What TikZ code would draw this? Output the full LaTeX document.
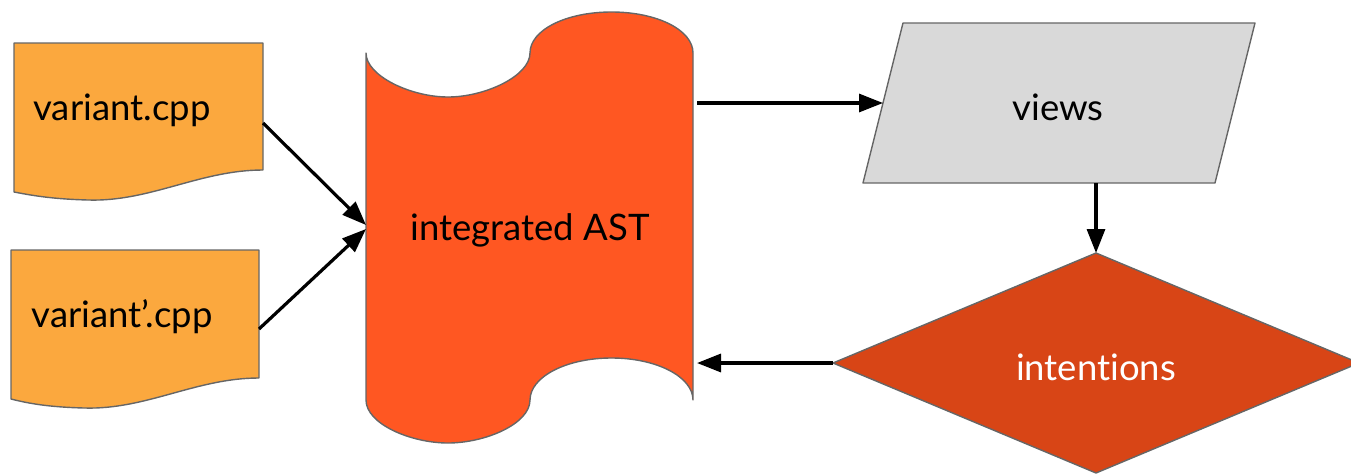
\documentclass[tikz,border=0pt]{standalone}
\usepackage{fontspec}
\setmainfont{Lato}[Ligatures={NoCommon}]
\usetikzlibrary{arrows.meta}
\definecolor{docfill}{HTML}{FBA83E}
\definecolor{astfill}{HTML}{FF5722}
\definecolor{viewfill}{HTML}{D9D9D9}
\definecolor{intfill}{HTML}{D84516}
\definecolor{edge}{HTML}{666666}
\tikzset{
  shapeline/.style={draw=edge, line width=1.4pt, line join=round},
  lbl/.style={inner sep=0pt, font=\fontsize{36.5}{40}\selectfont},
  conn/.style={line width=3.2pt, -{Triangle[length=24pt, width=18pt]}, shorten >=0pt},
}
\begin{document}
\begin{tikzpicture}[x=1pt, y=-1pt]
\useasboundingbox (0,0) rectangle (1351,474);
% document 1
\path[shapeline, fill=docfill] (14,43) -- (263,43) -- (263,170)
  .. controls (200,170) and (150,202) .. (88,200)
  .. controls (50,199) and (30,195) .. (14,192) -- cycle;
\node[lbl] (doc1) at (122,110) {variant.cpp};
\coordinate (doc1out) at (263,123);
% document 2
\path[shapeline, fill=docfill] (11,250) -- (259,250) -- (259,378)
  .. controls (196,378) and (146,410) .. (84,408)
  .. controls (46,407) and (27,403) .. (11,399) -- cycle;
\node[lbl] (doc2) at (122,317) {variant’.cpp};
\coordinate (doc2out) at (259,329);
% integrated AST (punched tape)
\path[shapeline, fill=astfill] (366,53) -- (366,400)
  .. controls (366,424) and (411,443) .. (448,443)
  .. controls (485,443) and (530,424) .. (530,400)
  .. controls (530,377) and (566,358) .. (611.5,358)
  .. controls (657,358) and (693,377) .. (693,400)
  -- (693,53)
  .. controls (693,30) and (657,12) .. (611.5,12)
  .. controls (566,12) and (530,30) .. (530,53)
  .. controls (530,76) and (485,97) .. (448,97)
  .. controls (411,97) and (366,76) .. (366,53) -- cycle;
\node[lbl] (ast) at (530,230) {integrated AST};
\coordinate (astin1) at (366,225);
\coordinate (astin2) at (366,229);
\coordinate (astout) at (697,103);
\coordinate (astback) at (697,363);
% views
\path[shapeline, fill=viewfill] (903,23) -- (1255,23) -- (1215,183) -- (863,183) -- cycle;
\node[lbl] (views) at (1058,107) {views};
\coordinate (viewsin) at (883,103);
\coordinate (viewsout) at (1096,183);
% intentions
\path[shapeline, fill=intfill] (1096,253) -- (1359,363) -- (1096,473) -- (833,363) -- cycle;
\node[lbl, text=white] (int) at (1096,367) {intentions};
\coordinate (intin) at (1096,253);
\coordinate (intout) at (833,363);
% connectors
\draw[conn] (doc1out) -- (astin1);
\draw[conn] (doc2out) -- (astin2);
\draw[conn] (astout) -- (viewsin);
\draw[conn] (viewsout) -- (intin);
\draw[conn] (intout) -- (astback);
\end{tikzpicture}
\end{document}
